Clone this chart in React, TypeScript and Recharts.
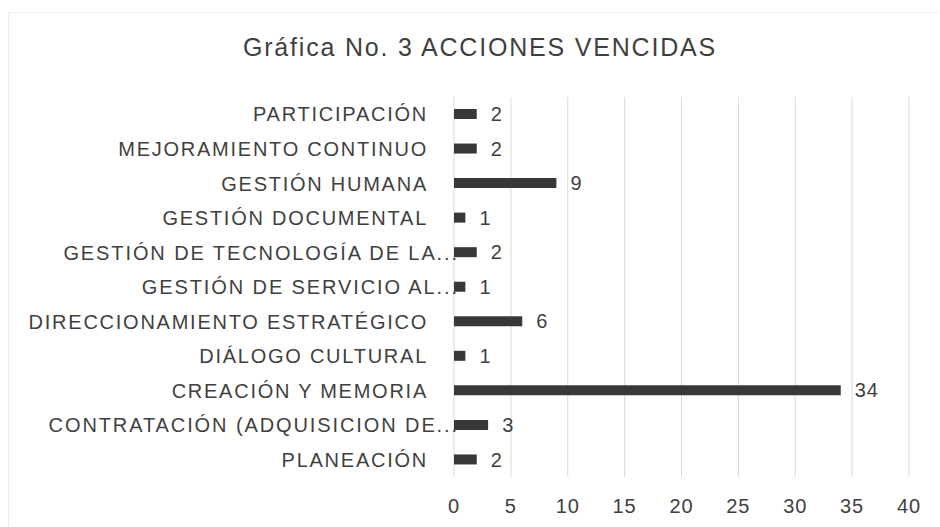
import React from "react";
import { BarChart, Bar, XAxis, YAxis, CartesianGrid, LabelList } from "recharts";

const categories = [
  "PARTICIPACIÓN",
  "MEJORAMIENTO CONTINUO",
  "GESTIÓN HUMANA",
  "GESTIÓN DOCUMENTAL",
  "GESTIÓN DE TECNOLOGÍA DE LA...",
  "GESTIÓN DE SERVICIO AL...",
  "DIRECCIONAMIENTO ESTRATÉGICO",
  "DIÁLOGO CULTURAL",
  "CREACIÓN Y MEMORIA",
  "CONTRATACIÓN (ADQUISICION DE...",
  "PLANEACIÓN",
];
const values = [2, 2, 9, 1, 2, 1, 6, 1, 34, 3, 2];
const xTicks = [0, 5, 10, 15, 20, 25, 30, 35, 40];
const title = "Gráfica No. 3 ACCIONES VENCIDAS";

const data = categories.map((c, i) => ({ name: c, value: values[i] }));

const FONT = "'Liberation Sans', Arial, sans-serif";
const TEXT = "#3f3f3f";

const CategoryTick = (props: any) => {
  const { x, y, payload } = props;
  const label: string = payload.value;
  const truncated = label.endsWith("...");
  const tx = truncated ? x + 31 : x;
  return (
    <text
      x={tx}
      y={y}
      dy="0.36em"
      textAnchor="end"
      fill={TEXT}
      fontSize={20}
      fontFamily={FONT}
      style={{ letterSpacing: truncated ? "1.9px" : "1.75px" }}
    >
      {label}
    </text>
  );
};

export default function App() {
  return (
    <div style={{ position: "absolute", left: 0, top: 0, width: 940, height: 527, background: "#fff" }}>
      <div
        style={{
          position: "absolute",
          left: 8,
          top: 12,
          width: 930,
          height: 520,
          borderLeft: "1px solid #ececec",
          borderTop: "1px solid #f0f0f0",
        }}
      />
      <div
        style={{
          position: "absolute",
          left: 10,
          top: 32,
          width: 940,
          textAlign: "center",
          fontFamily: FONT,
          fontSize: 25,
          color: TEXT,
          letterSpacing: "1.8px",
          lineHeight: "30px",
        }}
      >
        {title}
      </div>
      <div style={{ position: "absolute", left: 0, top: 0 }}>
        <BarChart
          width={940}
          height={527}
          data={data}
          layout="vertical"
          margin={{ top: 97, right: 31, bottom: 20, left: 0 }}
          barSize={10}
        >
          <CartesianGrid horizontal={false} vertical={true} stroke="#d9d9d9" />
          <XAxis
            type="number"
            domain={[0, 40]}
            ticks={xTicks}
            axisLine={false}
            tickLine={false}
            tickMargin={16}
            height={30}
            interval={0}
            tick={{ fill: TEXT, fontSize: 20, fontFamily: FONT, letterSpacing: 1 }}
          />
          <YAxis
            type="category"
            dataKey="name"
            width={454}
            axisLine={false}
            tickLine={false}
            tickMargin={20}
            interval={0}
            tick={<CategoryTick />}
          />
          <Bar dataKey="value" fill="#383838" isAnimationActive={false}>
            <LabelList
              dataKey="value"
              position="right"
              offset={14}
              fill={TEXT}
              fontSize={20}
              fontFamily={FONT}
              style={{ letterSpacing: "1px" }}
            />
          </Bar>
        </BarChart>
      </div>
    </div>
  );
}
